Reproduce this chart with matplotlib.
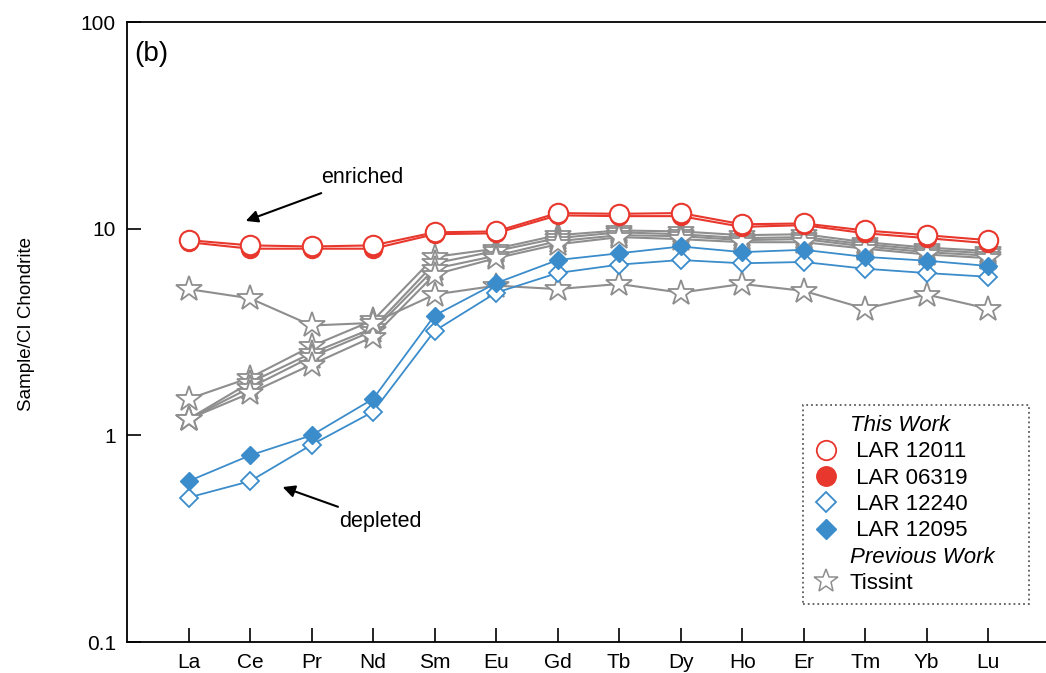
import matplotlib
matplotlib.use('Agg')
import matplotlib.pyplot as plt
from matplotlib.lines import Line2D

plt.rcParams['font.family'] = ['Liberation Sans', 'DejaVu Sans']

# REE order
elements = ['La', 'Ce', 'Pr', 'Nd', 'Sm', 'Eu', 'Gd', 'Tb', 'Dy', 'Ho', 'Er', 'Tm', 'Yb', 'Lu']

# this work
lar12011 = [8.8, 8.3, 8.2, 8.3, 9.6, 9.7, 11.9, 11.8, 11.9, 10.5, 10.6, 9.8, 9.3, 8.8]
lar06319 = [8.6, 8.0, 8.0, 8.0, 9.4, 9.5, 11.6, 11.5, 11.5, 10.2, 10.4, 9.5, 9.0, 8.5]
lar12240 = [0.50, 0.60, 0.90, 1.3, 3.2, 4.9, 6.1, 6.7, 7.05, 6.8, 6.9, 6.4, 6.1, 5.85]
lar12095 = [0.60, 0.80, 1.0, 1.5, 3.8, 5.45, 7.05, 7.6, 8.2, 7.7, 7.9, 7.3, 7.0, 6.6]

# previous work (Tissint)
tissint = [
    [1.5, 1.9, 2.7, 3.6, 7.3, 8.0, 9.3, 9.8, 9.7, 9.3, 9.4, 8.6, 8.1, 7.8],
    [1.2, 1.8, 2.5, 3.3, 6.8, 7.8, 9.0, 9.6, 9.4, 9.0, 9.1, 8.4, 7.9, 7.6],
    [1.2, 1.7, 2.4, 3.2, 6.4, 7.4, 8.7, 9.3, 9.2, 8.8, 8.9, 8.2, 7.7, 7.4],
    [1.2, 1.6, 2.2, 3.0, 6.0, 7.2, 8.4, 9.1, 8.9, 8.6, 8.6, 8.0, 7.5, 7.2],
    [5.1, 4.6, 3.4, 3.5, 4.8, 5.3, 5.1, 5.4, 4.9, 5.4, 5.0, 4.1, 4.8, 4.1],
]

red = '#e8372c'
blue = '#3b8ccb'
grey = '#8e8e8e'

x = list(range(len(elements)))

fig = plt.figure(figsize=(10.46, 6.73), dpi=100)
ax = fig.add_axes([127/1046, 1-642/673, (1046-127)/1046, 620/673])

for t in tissint:
    ax.plot(x, t, color=grey, lw=1.5, marker='*', ms=19, mfc='white',
            mec=grey, mew=1.3, zorder=2)

ax.plot(x, lar12240, color=blue, lw=1.3, marker='D', ms=9, mfc='white', mec=blue, mew=1.3, zorder=3)
ax.plot(x, lar12095, color=blue, lw=1.3, marker='D', ms=9, mfc=blue, mec=blue, zorder=3)
ax.plot(x, lar06319, color=red, lw=1.5, marker='o', ms=13, mfc=red, mec=red, zorder=4)
ax.plot(x, lar12011, color=red, lw=1.5, marker='o', ms=14, mfc='white', mec=red, mew=1.5, zorder=5)

ax.set_yscale('log')
ax.set_ylim(0.1, 100)
ax.set_xlim(-1, 13.94)
ax.set_xticks(x)
ax.set_xticklabels(elements, fontsize=15)
ax.set_yticks([0.1, 1, 10, 100])
ax.set_yticklabels(['0.1', '1', '10', '100'], fontsize=15)
ax.minorticks_off()
ax.tick_params(direction='in', length=10, width=1.2, pad=8)
ax.spines['right'].set_visible(False)
for s in ['left', 'bottom', 'top']:
    ax.spines[s].set_linewidth(1.3)

ax.set_ylabel('Sample/CI Chondrite', fontsize=13.5)
ax.yaxis.set_label_coords(-0.1, 0.513)

ax.text(0.008, 0.97, '(b)', transform=ax.transAxes, fontsize=20, va='top', ha='left')

ax.annotate('enriched', xy=(0.93, 10.9), xytext=(2.16, 17.6), fontsize=15.5,
            va='center', ha='left',
            arrowprops=dict(arrowstyle='-|>', color='black', lw=1.5, mutation_scale=18,
                            shrinkA=4, shrinkB=0))
ax.annotate('depleted', xy=(1.53, 0.562), xytext=(2.45, 0.381), fontsize=15.5,
            va='center', ha='left',
            arrowprops=dict(arrowstyle='-|>', color='black', lw=1.5, mutation_scale=18,
                            shrinkA=4, shrinkB=0))

blank = Line2D([], [], linestyle='none', marker=None)
handles = [
    blank,
    Line2D([], [], ls='none', marker='o', ms=14, mfc='white', mec=red, mew=1.3),
    Line2D([], [], ls='none', marker='o', ms=14, mfc=red, mec=red),
    Line2D([], [], ls='none', marker='D', ms=10, mfc='white', mec=blue, mew=1.3),
    Line2D([], [], ls='none', marker='D', ms=10, mfc=blue, mec=blue),
    blank,
    Line2D([], [], ls='none', marker='*', ms=18, mfc='white', mec=grey, mew=1.1),
]
# trailing spaces widen the box like the original
labels = ['This Work', ' LAR 12011', ' LAR 06319', ' LAR 12240', ' LAR 12095',
          'Previous Work    ', 'Tissint']
leg = fig.legend(handles, labels, loc='upper left',
                 bbox_to_anchor=(803/1046, 1-405/673), fontsize=16,
                 frameon=True, fancybox=False, labelspacing=0.24,
                 handlelength=1.2, handletextpad=0.45, borderpad=0.45,
                 borderaxespad=0)
leg.get_frame().set_linestyle(':')
leg.get_frame().set_edgecolor('#333333')
leg.get_frame().set_linewidth(1.3)
for i in (0, 5):
    leg.get_texts()[i].set_fontstyle('italic')

fig.savefig('out.png', dpi=100)
